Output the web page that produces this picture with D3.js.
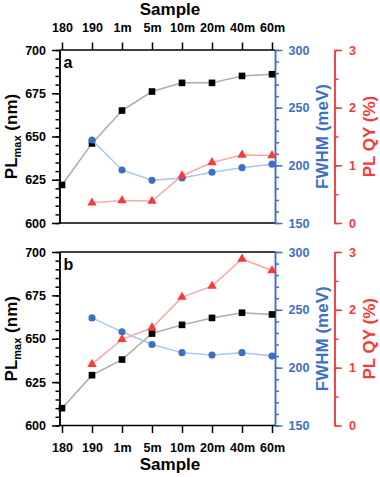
<!DOCTYPE html>
<html>
<head>
<meta charset="utf-8">
<script src="https://cdn.jsdelivr.net/npm/d3@7"></script>
<style>
  body { margin: 0; background: #fff; }
  svg { font-family: "Liberation Sans", Arial, sans-serif; font-weight: bold; }
</style>
</head>
<body>
<svg width="380" height="477"></svg>
<script>
const samples = ['180', '190', '1m', '5m', '10m', '20m', '40m', '60m'];

// panel a
const plMaxA = [622, 646, 665, 676, 681, 681, 685, 686];
const fwhmA = [null, 222, 196, 187, 189, 194, 198, 201];
const qyA = [null, 0.35, 0.39, 0.38, 0.82, 1.05, 1.18, 1.17];

// panel b
const plMaxB = [610, 629, 638, 653, 658, 662, 665, 664];
const fwhmB = [null, 243, 231, 220, 213, 211, 213, 210];
const qyB = [null, 1.06, 1.49, 1.69, 2.22, 2.41, 2.88, 2.68];

const plTicks = [600, 625, 650, 675, 700];
const fwhmTicks = [150, 200, 250, 300];
const qyTicks = [0, 1, 2, 3];

const blue = '#3d6fc2', blueLine = '#a8c7ea';
const red = '#f53a3a', redLine = '#f8a9a9';
const grayLine = '#ababab';

const svg = d3.select('svg');
const xLeft = 59.5, xRight = 275, xRed = 334.5;

const x = d3.scalePoint().domain(samples).range([62, 272]);

// major + minor ticks on separate groups so the second call doesn't wipe the first
function yAxis(parent, xPos, axisFn, scale, minor, major, color, pad) {
  const gm = parent.append('g').attr('transform', `translate(${xPos},0)`)
    .call(axisFn(scale).tickValues(minor).tickSize(4).tickFormat('').tickSizeOuter(0));
  const gM = parent.append('g').attr('transform', `translate(${xPos},0)`)
    .call(axisFn(scale).tickValues(major).tickSize(7.5).tickPadding(pad).tickSizeOuter(0).tickFormat(d3.format('d')));
  [gm, gM].forEach(a => {
    a.selectAll('path, line').attr('stroke', color).attr('stroke-width', 1.5);
    a.selectAll('text').attr('font-size', 12.5).attr('fill', color);
  });
}

function drawPanel(top, bottom, label, plMax, fwhm, qy, xOnTop) {
  const g = svg.append('g');
  const yPl = d3.scaleLinear().domain([600, 700]).range([bottom, top]);
  const yFw = d3.scaleLinear().domain([150, 300]).range([bottom, top]);
  const yQy = d3.scaleLinear().domain([0, 3]).range([bottom, top]);

  // frame lines (black)
  g.append('line').attr('x1', xLeft).attr('x2', xRight).attr('y1', top).attr('y2', top)
    .attr('stroke', '#000').attr('stroke-width', 1.5);
  g.append('line').attr('x1', xLeft).attr('x2', xRight).attr('y1', bottom).attr('y2', bottom)
    .attr('stroke', '#000').attr('stroke-width', 1.5);

  // x axis
  const xAxis = (xOnTop ? d3.axisTop(x) : d3.axisBottom(x))
    .tickSize(7.5).tickSizeOuter(0).tickPadding(10.5);
  const gx = g.append('g')
    .attr('transform', `translate(0,${xOnTop ? top : bottom})`)
    .call(xAxis);
  gx.select('.domain').remove();
  gx.selectAll('line').attr('stroke', '#000').attr('stroke-width', 1.5);
  gx.selectAll('text').attr('font-size', 12.5).attr('fill', '#000');

  yAxis(g, xLeft, d3.axisLeft, yPl, d3.range(600, 701, 5), plTicks, '#000', 6);
  yAxis(g, xRight, d3.axisRight, yFw, d3.range(150, 301, 10), fwhmTicks, blue, 6);
  yAxis(g, xRed, d3.axisRight, yQy, d3.range(0, 3.01, 0.5), qyTicks, red, 7);

  // axis titles
  const midY = (top + bottom) / 2;
  const tl = g.append('text')
    .attr('transform', `translate(17,${midY}) rotate(-90)`)
    .attr('text-anchor', 'middle').attr('font-size', 17).attr('fill', '#000');
  tl.append('tspan').text('PL');
  tl.append('tspan').attr('font-size', 11).attr('dy', 4).text('max');
  tl.append('tspan').attr('dy', -4).text(' (nm)');

  g.append('text')
    .attr('transform', `translate(328,${midY}) rotate(-90)`)
    .attr('text-anchor', 'middle').attr('font-size', 17).attr('fill', blue)
    .text('FWHM (meV)');
  g.append('text')
    .attr('transform', `translate(375,${midY}) rotate(-90)`)
    .attr('text-anchor', 'middle').attr('font-size', 17).attr('fill', red)
    .text('PL QY (%)');

  g.append('text').attr('x', 63.5).attr('y', top + 18)
    .attr('font-size', 16).attr('fill', '#000').text(label);

  // series
  const series = [
    { vals: plMax, y: yPl, line: grayLine, color: '#000', sym: d3.symbolSquare, size: 44 },
    { vals: fwhm, y: yFw, line: blueLine, color: blue, sym: d3.symbolCircle, size: 40 },
    { vals: qy, y: yQy, line: redLine, color: red, sym: d3.symbolTriangle, size: 38 }
  ];
  series.forEach(s => {
    const pts = samples.map((c, i) => ({ c, v: s.vals[i] })).filter(d => d.v != null);
    g.append('path').datum(pts)
      .attr('fill', 'none').attr('stroke', s.line).attr('stroke-width', 1.5)
      .attr('d', d3.line().x(d => x(d.c)).y(d => s.y(d.v)));
    g.selectAll(null).data(pts).enter().append('path')
      .attr('transform', d => `translate(${x(d.c)},${s.y(d.v)})`)
      .attr('d', d3.symbol().type(s.sym).size(s.size))
      .attr('fill', s.color);
  });
}

drawPanel(50, 223, 'a', plMaxA, fwhmA, qyA, true);
drawPanel(252, 425.5, 'b', plMaxB, fwhmB, qyB, false);

svg.append('text').attr('x', 170).attr('y', 15).attr('text-anchor', 'middle')
  .attr('font-size', 17).attr('fill', '#000').text('Sample');
svg.append('text').attr('x', 170).attr('y', 470).attr('text-anchor', 'middle')
  .attr('font-size', 17).attr('fill', '#000').text('Sample');
</script>
</body>
</html>
